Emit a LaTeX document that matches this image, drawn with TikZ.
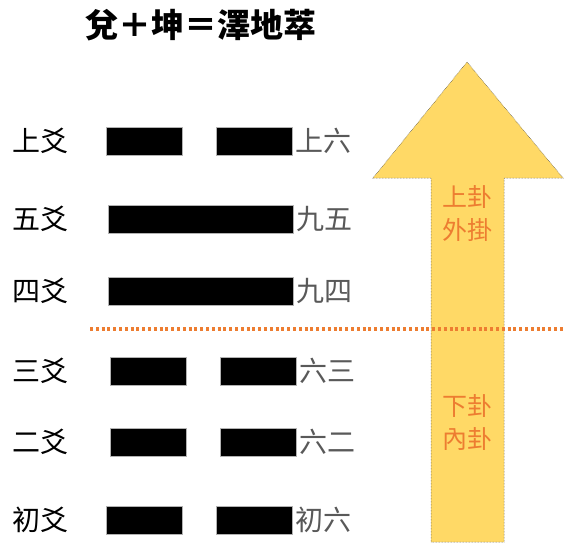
\documentclass[tikz,border=0pt]{standalone}
\usepackage{fontspec}
\setmainfont{Noto Sans CJK TC}
\usetikzlibrary{positioning}
\definecolor{yaoorange}{HTML}{ED7D31}
\definecolor{yaogray}{HTML}{595959}
\definecolor{arrowgold}{HTML}{FFD966}

\begin{document}
\begin{tikzpicture}
	[x=1pt, y=-1pt, on grid, node distance=75pt,
	 yaolabel/.style={font=\fontsize{28}{28}\selectfont, inner sep=0pt},
	 yinbar/.style={fill=black, draw=gray!60, line width=0.8pt, minimum width=76pt, minimum height=28pt, inner sep=0pt},
	 yangbar/.style={yinbar, minimum width=185pt},
	 yaoname/.style={yaolabel, text=yaogray, anchor=west},
	 guatext/.style={font=\fontsize{25}{33}\selectfont, text=yaoorange, align=center, inner sep=0pt}]
   \useasboundingbox (0,0) rectangle (565,550);
   \node[font=\fontsize{33}{33}\selectfont\bfseries] (title) at (201,25) {兌＋坤＝澤地萃};

   \node[yaolabel] (l_6) at (40.5,141) {上爻};
   \node[yaolabel] (l_5) [below=78pt of l_6] {五爻};
   \node[yaolabel] (l_4) [below=72pt of l_5] {四爻};
   \node[yaolabel] (l_3) [below=80pt of l_4] {三爻};
   \node[yaolabel] (l_2) [below=71pt of l_3] {二爻};
   \node[yaolabel] (l_1) [below=78pt of l_2] {初爻};

   \node[yinbar] (a_6) [right=103.5pt of l_6] {};
   \node[yinbar] (b_6) [right=110pt of a_6] {};
   \node[yangbar] (a_5) [right=160pt of l_5] {};
   \node[yangbar] (a_4) [right=160pt of l_4] {};
   \node[yinbar] (a_3) [right=107.5pt of l_3] {};
   \node[yinbar] (b_3) [right=110pt of a_3] {};
   \node[yinbar] (a_2) [right=107.5pt of l_2] {};
   \node[yinbar] (b_2) [right=110pt of a_2] {};
   \node[yinbar] (a_1) [right=103.5pt of l_1] {};
   \node[yinbar] (b_1) [right=110pt of a_1] {};

   \node[yaoname] (n_6) at ([xshift=3pt]b_6.east) {上六};
   \node[yaoname] (n_5) at ([xshift=3pt]a_5.east) {九五};
   \node[yaoname] (n_4) at ([xshift=3pt]a_4.east) {九四};
   \node[yaoname] (n_3) at ([xshift=3pt]b_3.east) {六三};
   \node[yaoname] (n_2) at ([xshift=3pt]b_2.east) {六二};
   \node[yaoname] (n_1) at ([xshift=3pt]b_1.east) {初六};

   % arrow
   \draw[fill=arrowgold, draw=gray!50!black, densely dotted, line width=0.5pt]
     (431,542) -- (431,178) -- (373,178) -- (467,62) -- (563,178)
     -- (504,178) -- (504,542) -- cycle;
   \node[guatext] (g_up) at (467,213.5) {上卦\\外掛};
   \node[guatext] (g_low) at (467,422.5) {下卦\\內卦};

   \coordinate (d_l) at (90,329);
   \coordinate (d_r) at (565,329);
   \draw[yaoorange, line width=3.3pt, dash pattern=on 3pt off 2.8pt] (d_l) -- (d_r);
\end{tikzpicture}
\end{document}
